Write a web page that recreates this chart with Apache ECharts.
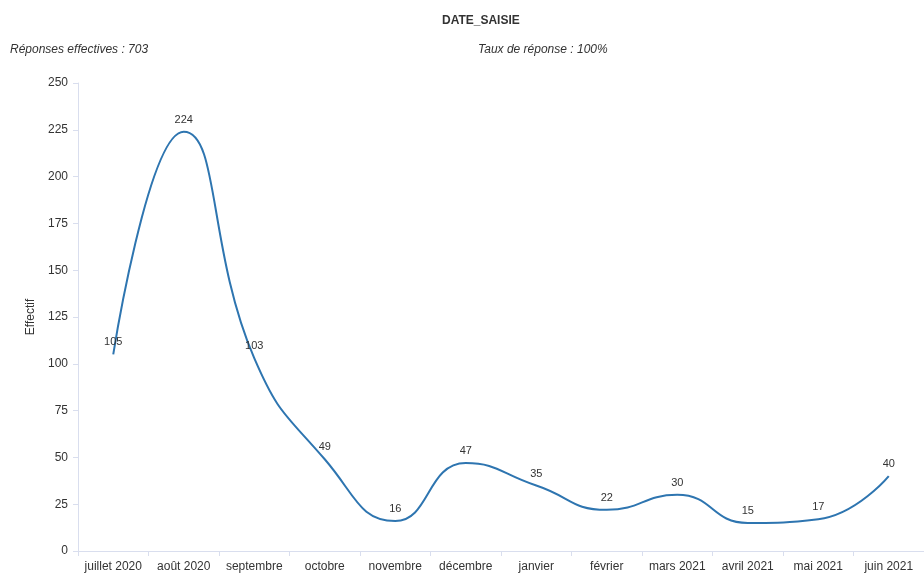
<!DOCTYPE html>
<html>
<head>
<meta charset="utf-8">
<script src="https://cdn.jsdelivr.net/npm/echarts@6/dist/echarts.min.js"></script>
<style>
html,body{margin:0;padding:0;background:#fff;}
#chart{width:924px;height:576px;}
</style>
</head>
<body>
<div id="chart"></div>
<script>
const categories = ['juillet 2020','août 2020','septembre','octobre','novembre','décembre','janvier','février','mars 2021','avril 2021','mai 2021','juin 2021'];
const values = [105, 224, 103, 49, 16, 47, 35, 22, 30, 15, 17, 40];
const titleText = 'DATE_SAISIE';
const subLeft = 'Réponses effectives : 703';
const subRight = 'Taux de réponse : 100%';
const yName = 'Effectif';

const chart = echarts.init(document.getElementById('chart'));
const font = 'Liberation Sans, Arial, sans-serif';
chart.setOption({
  animation: false,
  textStyle: { fontFamily: font },
  title: [
    { text: titleText, left: 437, top: 10, textStyle: { fontSize: 12, fontWeight: 'bold', color: '#333', fontFamily: font } },
    { text: subLeft, left: 5, top: 39, textStyle: { fontSize: 12, fontStyle: 'italic', fontWeight: 'normal', color: '#333', fontFamily: font } },
    { text: subRight, left: 473, top: 39, textStyle: { fontSize: 12, fontStyle: 'italic', fontWeight: 'normal', color: '#333', fontFamily: font } }
  ],
  grid: { left: 78, right: -4, top: 83, bottom: 25, containLabel: false },
  xAxis: {
    type: 'category',
    data: categories,
    boundaryGap: true,
    axisLine: { lineStyle: { color: '#D9DEEE' } },
    axisTick: { show: true, lineStyle: { color: '#D9DEEE' } },
    axisLabel: { color: '#333', fontSize: 12, interval: 0, margin: 10 }
  },
  yAxis: {
    type: 'value',
    min: 0, max: 250, interval: 25,
    name: yName,
    nameLocation: 'middle',
    nameGap: 40,
    nameTextStyle: { color: '#333', fontSize: 12 },
    axisLine: { show: true, lineStyle: { color: '#D9DEEE' } },
    axisTick: { show: true, lineStyle: { color: '#D9DEEE' } },
    splitLine: { show: false },
    axisLabel: { color: '#333', fontSize: 12, margin: 10 }
  },
  series: [{
    type: 'line',
    data: values,
    smooth: true,
    showSymbol: true,
    symbol: 'circle',
    symbolSize: 1,
    lineStyle: { color: '#2E75B0', width: 2 },
    itemStyle: { color: 'transparent' },
    label: { show: true, position: 'top', color: '#333', fontSize: 11, distance: 6 }
  }]
});
</script>
</body>
</html>
